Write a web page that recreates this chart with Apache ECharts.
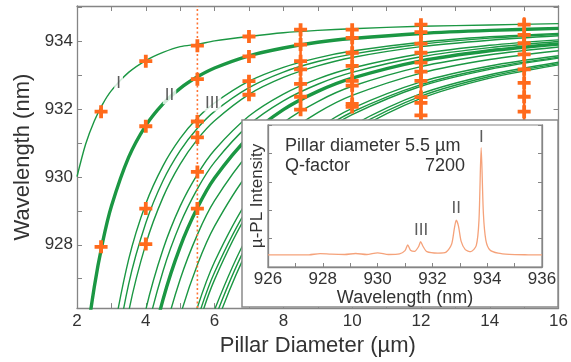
<!DOCTYPE html>
<html>
<head>
<meta charset="utf-8">
<script src="https://cdn.jsdelivr.net/npm/echarts@6/dist/echarts.min.js"></script>
<style>html,body{margin:0;padding:0;background:#fff;}#c{width:571px;height:362px;}</style>
</head>
<body>
<div id="c"></div>
<script>
// ---------- data ----------
const diam = [2, 2.25, 2.5, 2.75, 3, 3.5, 4, 4.5, 5, 5.5, 6, 7, 8, 9, 10, 12, 14, 16];
const modeI   = [930.01, 930.97, 931.65, 932.16, 932.55, 933.09, 933.44, 933.68, 933.85, 933.92, 934.02, 934.15, 934.26, 934.33, 934.38, 934.45, 934.49, 934.53];
const modeII  = [922.33, 924.90, 926.74, 928.10, 929.14, 930.58, 931.52, 932.16, 932.62, 932.96, 933.22, 933.58, 933.81, 933.98, 934.09, 934.24, 934.33, 934.39];
const modeIII = [null, 917.59, 920.82, 923.21, 925.02, 927.56, 929.21, 930.33, 931.14, 931.74, 932.19, 932.83, 933.24, 933.52, 933.72, 933.98, 934.14, 934.24];
const mode4   = [null, 915.81, 919.38, 922.02, 924.02, 926.83, 928.64, 929.89, 930.78, 931.44, 931.94, 932.64, 933.10, 933.41, 933.63, 933.92, 934.10, 934.21];
const mode5   = [null, null, 917.78, 920.70, 922.91, 926.01, 928.02, 929.40, 930.38, 931.11, 931.66, 932.44, 932.94, 933.28, 933.53, 933.85, 934.04, 934.17];
const mode6   = [null, null, null, 916.60, 919.47, 923.48, 926.08, 927.86, 929.14, 930.08, 930.80, 931.80, 932.45, 932.90, 933.22, 933.64, 933.89, 934.05];
const mode7   = [null, null, null, null, 918.02, 922.42, 925.27, 927.22, 928.62, 929.65, 930.44, 931.54, 932.25, 932.74, 933.09, 933.55, 933.82, 934.00];
const mode8   = [null, null, null, null, 916.14, 921.03, 924.21, 926.38, 927.94, 929.09, 929.97, 931.19, 931.99, 932.53, 932.92, 933.43, 933.73, 933.93];
const mode9   = [null, null, null, null, null, 919.07, 922.71, 925.20, 926.98, 928.30, 929.30, 930.70, 931.61, 932.23, 932.68, 933.26, 933.61, 933.84];
const mode10  = [null, null, null, null, null, 916.87, 921.02, 923.86, 925.90, 927.41, 928.55, 930.15, 931.19, 931.90, 932.41, 933.07, 933.47, 933.73];
const mode11  = [null, null, null, null, null, null, 918.64, 921.99, 924.38, 926.15, 927.50, 929.38, 930.60, 931.43, 932.03, 932.81, 933.28, 933.58];
const mode12  = [null, null, null, null, null, null, 917.96, 921.44, 923.94, 925.79, 927.19, 929.15, 930.42, 931.30, 931.92, 932.73, 933.22, 933.54];
const mode13  = [null, null, null, null, null, null, 917.46, 921.05, 923.62, 925.52, 926.97, 928.99, 930.30, 931.20, 931.84, 932.68, 933.18, 933.51];
const mode14  = [null, null, null, null, null, null, null, 919.47, 922.34, 924.46, 926.08, 928.34, 929.80, 930.80, 931.52, 932.46, 933.02, 933.39];
const mode15  = [null, null, null, null, null, null, null, 918.98, 921.94, 924.13, 925.80, 928.13, 929.64, 930.68, 931.42, 932.39, 932.97, 933.35];
const mode16  = [null, null, null, null, null, null, null, 918.48, 921.54, 923.80, 925.52, 927.93, 929.49, 930.56, 931.32, 932.32, 932.92, 933.31];

// measured (crosses)
const expDiam = [2.7, 4, 5.5, 7, 8.5, 10, 12, 15];
const expWave = [
  [931.93, 927.94],
  [933.42, 931.50, 929.07, 928.02],
  [933.88, 932.89, 931.64, 931.17, 930.15, 929.07],
  [934.15, 933.56, 932.83, 932.43],
  [934.35, 933.91, 933.42, 933.18, 932.75, 932.37, 931.99],
  [934.35, 934.11, 933.67, 933.28, 932.84, 932.70, 932.16, 932.07],
  [934.50, 934.28, 933.94, 933.67, 933.38, 933.11, 932.84, 932.36, 932.19, 931.82],
  [934.50, 934.20, 933.95, 933.62, 933.18, 932.78, 932.37, 931.93]
];
const barDiam = [8.5, 10, 12, 15];
const barLow  = [931.99, 932.07, 929.5, 929.0];
const barHigh = [934.35, 934.35, 934.62, 934.72];

const markerDiam = 5.5;
const yMin = 926.13, yMax = 935.05;
const yLabels = [928, 930, 932, 934];
const yTicks = [927, 928, 929, 930, 931, 932, 933, 934, 935];

const modeNames = ['I', 'II', 'III'];
const modeLabelDiam = [3.21, 4.69, 5.93];
const modeLabelWave = [932.76, 932.40, 932.19];

// inset spectrum
const specWave = [926.0, 926.5, 927.0, 927.5, 927.9, 928.3, 928.8, 929.2, 929.6, 930.0, 930.4, 930.8, 931.0, 931.1, 931.2, 931.35, 931.5, 931.57, 931.65, 931.8, 932.2, 932.5, 932.7, 932.8, 932.87, 932.95, 933.05, 933.2, 933.4, 933.6, 933.7, 933.78, 933.86, 933.95, 934.1, 934.4, 934.8, 935.5, 936.0];
const specInt  = [0.085, 0.085, 0.085, 0.086, 0.094, 0.09, 0.088, 0.095, 0.088, 0.1, 0.088, 0.092, 0.115, 0.155, 0.118, 0.11, 0.145, 0.178, 0.148, 0.108, 0.098, 0.105, 0.16, 0.27, 0.33, 0.29, 0.18, 0.122, 0.108, 0.15, 0.33, 0.84, 0.38, 0.19, 0.12, 0.097, 0.089, 0.086, 0.085];
const peakNames = ['I', 'II', 'III'];
const peakWave = [933.79, 932.87, 931.59];
const peakLabelInt = [0.915, 0.41, 0.255];

// ---------- chart ----------
const FONT = "'Liberation Sans', Arial, Helvetica, sans-serif";
const GREEN = '#1b9743';
const ORANGE = '#ff6a1c';
const AXIS = '#858585';
const TXT = '#333333';

const curves = [modeI, modeII, modeIII, mode4, mode5, mode6, mode7, mode8, mode9, mode10, mode11, mode12, mode13, mode14, mode15, mode16];
const thick = new Set([1, 7]);

function pairs(xs, ys) {
  const out = [];
  xs.forEach((x, i) => { if (ys[i] != null) out.push([x, ys[i]]); });
  return out;
}

const series = [];
curves.forEach((c, k) => {
  series.push({
    type: 'line', xAxisIndex: 0, yAxisIndex: 0, data: pairs(diam, c),
    symbol: 'none', smooth: 0.3, clip: true, silent: true, z: 2,
    lineStyle: { color: GREEN, width: thick.has(k) ? 3.4 : 1.4 }
  });
});

// dotted marker line
series.push({
  type: 'line', xAxisIndex: 0, yAxisIndex: 0, data: [[markerDiam, yMin], [markerDiam, yMax]],
  symbol: 'none', z: 3, silent: true,
  lineStyle: { color: '#ff7433', width: 1.6, type: [2, 2.5] }
});

// vertical bars
barDiam.forEach((d, i) => {
  series.push({
    type: 'line', xAxisIndex: 0, yAxisIndex: 0, data: [[d, barLow[i]], [d, barHigh[i]]],
    symbol: 'none', z: 4, silent: true, lineStyle: { color: ORANGE, width: 2.6 }
  });
});

// crosses
const crossData = [];
expDiam.forEach((d, i) => expWave[i].forEach(w => crossData.push([d, w])));
series.push({
  type: 'scatter', xAxisIndex: 0, yAxisIndex: 0, data: crossData, z: 5,
  symbol: 'path://M4.6,0H8.4V13H4.6Z M0,4.6H13V8.4H0Z', symbolSize: [13, 13],
  itemStyle: { color: ORANGE, opacity: 1 }, silent: true
});

// mode labels
series.push({
  type: 'scatter', xAxisIndex: 0, yAxisIndex: 0, z: 6, silent: true,
  data: modeNames.map((n, i) => ({ name: n, value: [modeLabelDiam[i], modeLabelWave[i]] })),
  symbol: 'circle', symbolSize: 1, itemStyle: { color: 'rgba(255,255,255,0)' },
  label: { show: true, position: 'inside', formatter: p => p.name, color: TXT, fontSize: 17, fontFamily: FONT,
           backgroundColor: '#fff', padding: [0, 2] }
});

// inset spectrum
series.push({
  type: 'line', xAxisIndex: 2, yAxisIndex: 2, data: pairs(specWave, specInt),
  symbol: 'none', smooth: 0.25, z: 30, silent: true,
  lineStyle: { color: '#f5a27a', width: 1.3 }
});
series.push({
  type: 'scatter', xAxisIndex: 2, yAxisIndex: 2, z: 31, silent: true,
  data: peakNames.map((n, i) => ({ name: n, value: [peakWave[i], peakLabelInt[i]] })),
  symbol: 'circle', symbolSize: 1, itemStyle: { color: 'rgba(255,255,255,0)' },
  label: { show: true, position: 'inside', formatter: p => p.name, color: TXT, fontSize: 17, fontFamily: FONT }
});

const tickStyle = { lineStyle: { color: AXIS, width: 1 } };
const axisLine = { show: true, lineStyle: { color: AXIS, width: 1.3 } };

const option = {
  animation: false,
  backgroundColor: '#fff',
  textStyle: { fontFamily: FONT },
  grid: [
    { left: 77, top: 6, right: 10, bottom: 51, containLabel: false },
    { left: 268, top: 125, right: 29, bottom: 95, containLabel: false, show: true,
      backgroundColor: 'transparent', borderColor: AXIS, borderWidth: 1.2, z: 20 }
  ],
  xAxis: [
    { gridIndex: 0, type: 'value', min: 2, max: 16, interval: 2, position: 'bottom',
      axisLine, axisTick: Object.assign({ inside: true, length: 5 }, tickStyle),
      minorTick: Object.assign({ show: true, splitNumber: 2, length: 5 }, tickStyle),
      splitLine: { show: false }, minorSplitLine: { show: false },
      axisLabel: { color: TXT, fontSize: 17, margin: 5, fontFamily: FONT },
      name: 'Pillar Diameter (µm)', nameLocation: 'middle', nameGap: 15,
      nameTextStyle: { color: TXT, fontSize: 22, fontFamily: FONT } },
    { gridIndex: 0, type: 'value', min: 2, max: 16, interval: 2, position: 'top',
      axisLine, axisTick: Object.assign({ inside: true, length: 5 }, tickStyle),
      minorTick: Object.assign({ show: true, splitNumber: 2, length: 5 }, tickStyle),
      splitLine: { show: false }, axisLabel: { show: false } },
    { gridIndex: 1, type: 'value', min: 926, max: 936, interval: 2, position: 'bottom', z: 20,
      axisLine, axisTick: Object.assign({ inside: true, length: 4 }, tickStyle),
      minorTick: Object.assign({ show: true, splitNumber: 2, length: 4 }, tickStyle),
      splitLine: { show: false },
      axisLabel: { color: TXT, fontSize: 17, margin: 4, fontFamily: FONT },
      name: 'Wavelength (nm)', nameLocation: 'middle', nameGap: 20,
      nameTextStyle: { color: TXT, fontSize: 18, fontFamily: FONT } }
  ],
  yAxis: [
    { gridIndex: 0, type: 'value', min: yMin, max: yMax, position: 'left',
      axisLine, axisTick: Object.assign({ inside: true, length: 5, customValues: yTicks }, tickStyle),
      splitLine: { show: false },
      axisLabel: { color: TXT, fontSize: 17, margin: 4, fontFamily: FONT, customValues: yLabels },
      name: 'Wavelength (nm)', nameLocation: 'middle', nameGap: 43,
      nameTextStyle: { color: TXT, fontSize: 22, fontFamily: FONT } },
    { gridIndex: 0, type: 'value', min: yMin, max: yMax, position: 'right',
      axisLine, axisTick: Object.assign({ inside: true, length: 5, customValues: yTicks }, tickStyle),
      splitLine: { show: false }, axisLabel: { show: false, customValues: yLabels } },
    { gridIndex: 1, type: 'value', min: 0, max: 1, interval: 0.2, position: 'left', z: 20,
      axisLine, axisTick: Object.assign({ inside: true, length: 4 }, tickStyle),
      splitLine: { show: false }, axisLabel: { show: false },
      name: 'µ-PL Intensity', nameLocation: 'middle', nameGap: 2,
      nameTextStyle: { color: TXT, fontSize: 17, fontFamily: FONT } },
    { gridIndex: 1, type: 'value', min: 0, max: 1, interval: 0.2, position: 'right', z: 20,
      axisLine, axisTick: Object.assign({ inside: true, length: 4 }, tickStyle),
      splitLine: { show: false }, axisLabel: { show: false } }
  ],
  graphic: [
    { type: 'rect', z: 10, shape: { x: 242, y: 120, width: 316, height: 187 },
      style: { fill: '#ffffff', stroke: '#8a8a8a', lineWidth: 1.5 } },
    { type: 'text', z: 40, x: 285, y: 146,
      style: { text: 'Pillar diameter 5.5 µm', fontSize: 18, fontFamily: FONT, fill: TXT, align: 'left', verticalAlign: 'middle' } },
    { type: 'text', z: 40, x: 285, y: 166,
      style: { text: 'Q-factor', fontSize: 18, fontFamily: FONT, fill: TXT, align: 'left', verticalAlign: 'middle' } },
    { type: 'text', z: 40, x: 465, y: 166,
      style: { text: '7200', fontSize: 18, fontFamily: FONT, fill: TXT, align: 'right', verticalAlign: 'middle' } }
  ],
  series
};

const chart = echarts.init(document.getElementById('c'), null, { renderer: 'canvas' });
chart.setOption(option);
</script>
</body>
</html>
